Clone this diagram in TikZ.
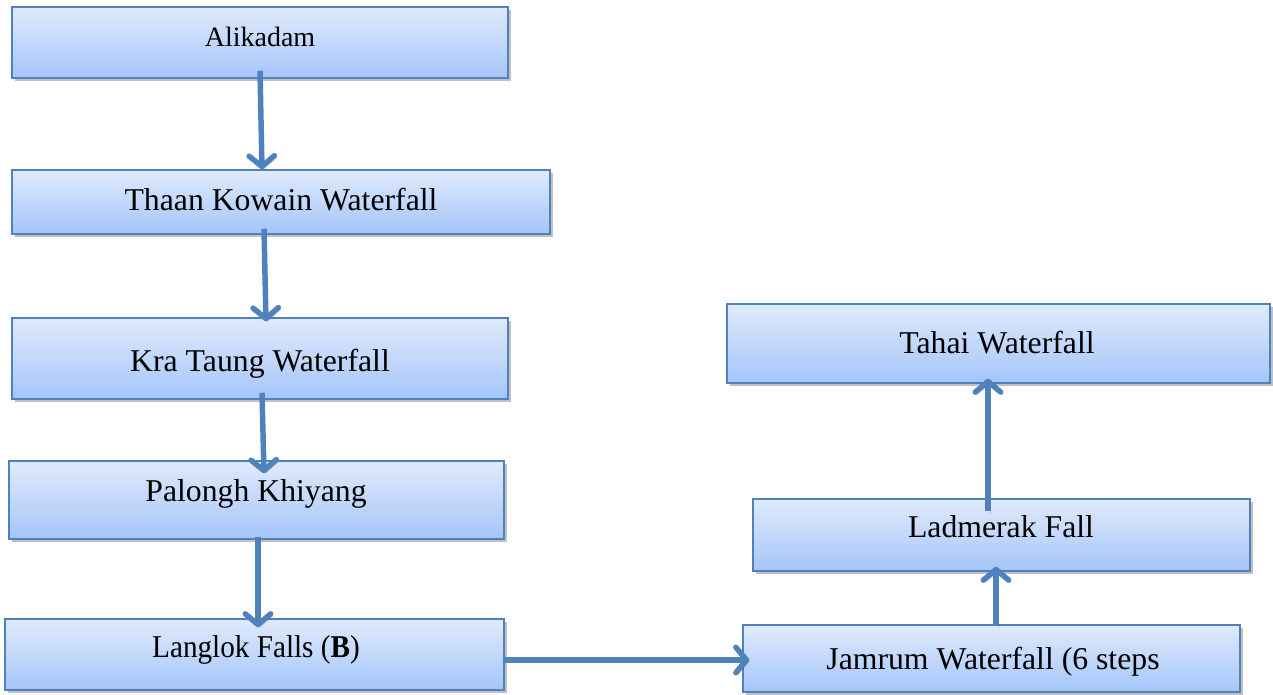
\documentclass[tikz,border=0pt]{standalone}
\usepackage{fontspec}
\usepackage{graphicx}
\setmainfont{Liberation Serif}
\usetikzlibrary{arrows.meta,shadows,calc}
\definecolor{edgeblue}{RGB}{79,129,189}
\definecolor{boxtop}{RGB}{224,234,252}
\definecolor{boxbot}{RGB}{164,197,249}
\begin{document}
\begin{tikzpicture}[x=0.75pt,y=-0.75pt,
  stage/.style={draw=edgeblue,line width=1.1pt,rectangle,inner sep=0pt,
    top color=boxtop,bottom color=boxbot,
    drop shadow={shadow xshift=2pt,shadow yshift=-2pt,opacity=0.35,fill=black!70}},
  caption/.style={anchor=base,inner sep=0pt,font=\fontsize{23.8}{28}\selectfont},
  flow/.style={draw=edgeblue,line width=4.1pt,
    -{Straight Barb[length=8pt,width=19pt,round]},
    preaction={draw=black,opacity=0.18,transform canvas={shift={(1.5pt,-1.8pt)}}}}]
\useasboundingbox (0,0) rectangle (1273,694);

% boxes
\node[stage,minimum width=372pt,minimum height=53.25pt] (a) at (260,42.5) {};
\node[stage,minimum width=403.5pt,minimum height=48pt] (b) at (281,202) {};
\node[stage,minimum width=372pt,minimum height=60.75pt] (c) at (260,358.5) {};
\node[stage,minimum width=371.25pt,minimum height=58.5pt] (d) at (256.5,500) {};
\node[stage,minimum width=374.25pt,minimum height=53.25pt] (e) at (254.5,654.5) {};
\node[stage,minimum width=372.75pt,minimum height=50.25pt] (f) at (991.5,658.5) {};
\node[stage,minimum width=372.75pt,minimum height=54pt] (g) at (1001.5,535) {};
\node[stage,minimum width=407.25pt,minimum height=59.25pt] (h) at (998.5,343.5) {};

% labels
\node[caption,font=\fontsize{21}{25}\selectfont] (ta) at (260,46) {Alikadam};
\node[caption] (tb) at (281,210) {Thaan Kowain Waterfall};
\node[caption] (tc) at (260,371) {Kra Taung Waterfall};
\node[caption] (td) at (256,501) {Palongh Khiyang};
\node[caption] (te) at (256,657) {\scalebox{0.92}[1]{Langlok Falls (\textbf{B})}};
\node[caption] (tf) at (993,669) {Jamrum Waterfall (6 steps};
\node[caption] (tg) at (1001,537) {Ladmerak Fall};
\node[caption] (th) at (997,353) {Tahai Waterfall};

% connectors
\draw[flow] ($(a.south)+(0,-8)$) -- ($(b.north)+(-19,0)$);
\draw[flow] ($(b.south)+(-17,-6)$) -- ($(c.north)+(6,4)$);
\draw[flow] ($(c.south)+(2,-7)$) -- ($(d.north)+(7.5,13)$);
\draw[flow] ($(d.south)+(1.5,-3)$) -- ($(e.north)+(3.5,9)$);
\draw[flow] ($(e.east)+(0,5.5)$) -- ($(f.west)+(7,1.5)$);
\draw[flow] ($(f.north)+(4.5,0)$) -- ($(g.south)+(-5.5,-5)$);
\draw[flow] ($(g.north)+(-13.5,13)$) -- ($(h.south)+(-10.5,-5)$);
\end{tikzpicture}
\end{document}
